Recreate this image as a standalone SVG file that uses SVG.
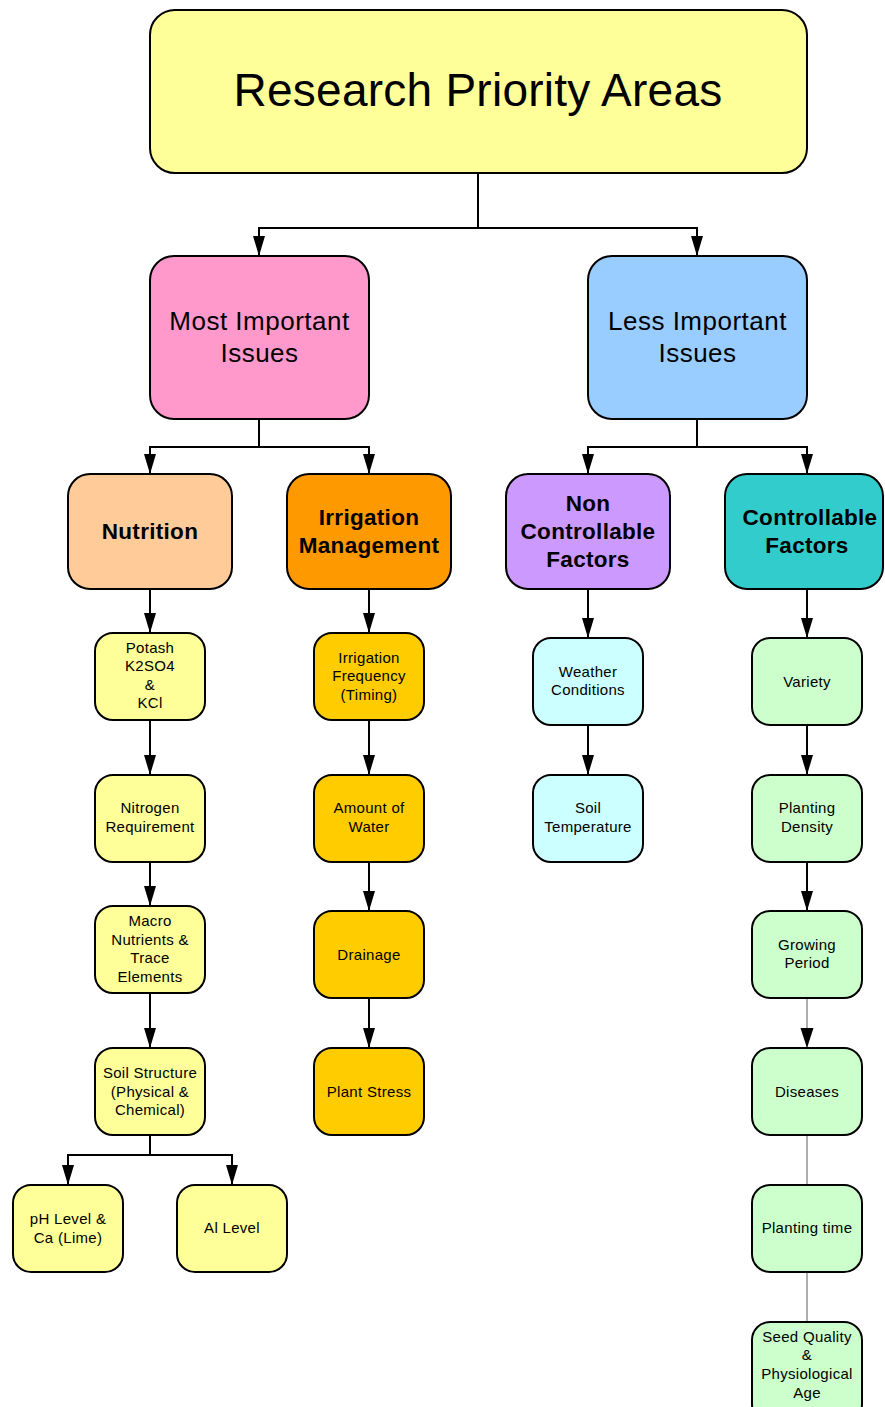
<svg xmlns="http://www.w3.org/2000/svg" width="885" height="1407" viewBox="0 0 885 1407">
<style>
.n{stroke:#000;stroke-width:2}
.t{font-family:"Liberation Sans",Arial,sans-serif;fill:#000;text-anchor:middle}
.t1{font-size:46px;letter-spacing:0.25px}
.t2{font-size:26px;letter-spacing:0.5px}
.t3{font-size:22.5px;font-weight:bold;letter-spacing:0.3px}
.t4{font-size:15px;letter-spacing:0.3px}
.c{fill:none;stroke:#000;stroke-width:2}
.g{fill:none;stroke:#777;stroke-width:1.2}
.y{fill:#FFFF99}.o{fill:#FFCC00}.cy{fill:#CCFFFF}.gr{fill:#CCFFCC}
</style>
<defs>
<marker id="a" viewBox="0 0 20 12" markerWidth="20" markerHeight="12" refX="20" refY="6" orient="auto" markerUnits="userSpaceOnUse">
<path d="M0,0 L20,6 L0,12 z" fill="#000"/>
</marker>
</defs>
<g id="connectors">
<path class="c" d="M478,173 V228 H259 V256" marker-end="url(#a)"/>
<path class="c" d="M478,228 H697 V256" marker-end="url(#a)"/>
<path class="c" d="M259,419 V447 H150 V474" marker-end="url(#a)"/>
<path class="c" d="M259,447 H369 V474" marker-end="url(#a)"/>
<path class="c" d="M697,419 V447 H588 V474" marker-end="url(#a)"/>
<path class="c" d="M697,447 H807 V474" marker-end="url(#a)"/>
<path class="c" d="M150,589 V633" marker-end="url(#a)"/>
<path class="c" d="M150,720 V775" marker-end="url(#a)"/>
<path class="c" d="M150,862 V906" marker-end="url(#a)"/>
<path class="c" d="M150,993 V1048" marker-end="url(#a)"/>
<path class="c" d="M150,1135 V1155 H68 V1185" marker-end="url(#a)"/>
<path class="c" d="M150,1155 H232 V1185" marker-end="url(#a)"/>
<path class="c" d="M369,589 V633" marker-end="url(#a)"/>
<path class="c" d="M369,720 V775" marker-end="url(#a)"/>
<path class="c" d="M369,862 V911" marker-end="url(#a)"/>
<path class="c" d="M369,998 V1048" marker-end="url(#a)"/>
<path class="c" d="M588,589 V638" marker-end="url(#a)"/>
<path class="c" d="M588,725 V775" marker-end="url(#a)"/>
<path class="c" d="M807,589 V638" marker-end="url(#a)"/>
<path class="c" d="M807,725 V775" marker-end="url(#a)"/>
<path class="c" d="M807,862 V911" marker-end="url(#a)"/>
<path class="g" d="M807,998 V1047"/>
<path d="M800.5,1028 L813.5,1028 L807,1048 z" fill="#000"/>
<path class="g" d="M807,1135 V1185"/>
<path class="g" d="M807,1272 V1322"/>
</g>
<g id="root"><rect class="n" x="150" y="10" width="657" height="163" rx="25" fill="#FFFF99"/><text class="t t1" x="478" y="106">Research Priority Areas</text></g>
<g id="most"><rect class="n" x="150" y="256" width="219" height="163" rx="24" fill="#FF99CC"/><text class="t t2" x="259.5" y="330">Most Important</text><text class="t t2" x="259.5" y="362">Issues</text></g>
<g id="less"><rect class="n" x="588" y="256" width="219" height="163" rx="24" fill="#99CCFF"/><text class="t t2" x="697.5" y="330">Less Important</text><text class="t t2" x="697.5" y="362">Issues</text></g>
<g id="nutrition"><rect class="n" x="68" y="474" width="164" height="115" rx="22" fill="#FFCC99"/><text class="t t3" x="150" y="539">Nutrition</text></g>
<g id="irrigation"><rect class="n" x="287" y="474" width="164" height="115" rx="22" fill="#FF9900"/><text class="t t3" x="369" y="525">Irrigation</text><text class="t t3" x="369" y="553">Management</text></g>
<g id="noncontrol"><rect class="n" x="506" y="474" width="164" height="115" rx="22" fill="#CC99FF"/><text class="t t3" x="588" y="511">Non</text><text class="t t3" x="588" y="539">Controllable</text><text class="t t3" x="588" y="567">Factors</text></g>
<g id="control"><rect class="n" x="725" y="474" width="158" height="115" rx="22" fill="#33CCCC"/><text class="t t3" x="810" y="525">Controllable</text><text class="t t3" x="807" y="553">Factors</text></g>
<g id="potash"><rect class="n y" x="95" y="633" width="110" height="87" rx="18"/><text class="t t4" x="150" y="653">Potash</text><text class="t t4" x="150" y="671">K2SO4</text><text class="t t4" x="150" y="690">&amp;</text><text class="t t4" x="150" y="708">KCl</text></g>
<g id="nitrogen"><rect class="n y" x="95" y="775" width="110" height="87" rx="18"/><text class="t t4" x="150" y="813">Nitrogen</text><text class="t t4" x="150" y="832">Requirement</text></g>
<g id="macro"><rect class="n y" x="95" y="906" width="110" height="87" rx="18"/><text class="t t4" x="150" y="926">Macro</text><text class="t t4" x="150" y="945">Nutrients &amp;</text><text class="t t4" x="150" y="963">Trace</text><text class="t t4" x="150" y="982">Elements</text></g>
<g id="soilstructure"><rect class="n y" x="95" y="1048" width="110" height="87" rx="18"/><text class="t t4" x="150" y="1078">Soil Structure</text><text class="t t4" x="150" y="1097">(Physical &amp;</text><text class="t t4" x="150" y="1115">Chemical)</text></g>
<g id="ph"><rect class="n y" x="13" y="1185" width="110" height="87" rx="18"/><text class="t t4" x="68" y="1224">pH Level &amp;</text><text class="t t4" x="68" y="1243">Ca (Lime)</text></g>
<g id="al"><rect class="n y" x="177" y="1185" width="110" height="87" rx="18"/><text class="t t4" x="232" y="1233">Al Level</text></g>
<g id="freq"><rect class="n o" x="314" y="633" width="110" height="87" rx="18"/><text class="t t4" x="369" y="663">Irrigation</text><text class="t t4" x="369" y="681">Frequency</text><text class="t t4" x="369" y="700">(Timing)</text></g>
<g id="amount"><rect class="n o" x="314" y="775" width="110" height="87" rx="18"/><text class="t t4" x="369" y="813">Amount of</text><text class="t t4" x="369" y="832">Water</text></g>
<g id="drainage"><rect class="n o" x="314" y="911" width="110" height="87" rx="18"/><text class="t t4" x="369" y="960">Drainage</text></g>
<g id="stress"><rect class="n o" x="314" y="1048" width="110" height="87" rx="18"/><text class="t t4" x="369" y="1097">Plant Stress</text></g>
<g id="weather"><rect class="n cy" x="533" y="638" width="110" height="87" rx="18"/><text class="t t4" x="588" y="677">Weather</text><text class="t t4" x="588" y="695">Conditions</text></g>
<g id="soiltemp"><rect class="n cy" x="533" y="775" width="110" height="87" rx="18"/><text class="t t4" x="588" y="813">Soil</text><text class="t t4" x="588" y="832">Temperature</text></g>
<g id="variety"><rect class="n gr" x="752" y="638" width="110" height="87" rx="18"/><text class="t t4" x="807" y="687">Variety</text></g>
<g id="density"><rect class="n gr" x="752" y="775" width="110" height="87" rx="18"/><text class="t t4" x="807" y="813">Planting</text><text class="t t4" x="807" y="832">Density</text></g>
<g id="growing"><rect class="n gr" x="752" y="911" width="110" height="87" rx="18"/><text class="t t4" x="807" y="950">Growing</text><text class="t t4" x="807" y="968">Period</text></g>
<g id="diseases"><rect class="n gr" x="752" y="1048" width="110" height="87" rx="18"/><text class="t t4" x="807" y="1097">Diseases</text></g>
<g id="plantingtime"><rect class="n gr" x="752" y="1185" width="110" height="87" rx="18"/><text class="t t4" x="807" y="1233">Planting time</text></g>
<g id="seed"><rect class="n gr" x="752" y="1322" width="110" height="100" rx="18"/><text class="t t4" x="807" y="1342">Seed Quality</text><text class="t t4" x="807" y="1360">&amp;</text><text class="t t4" x="807" y="1379">Physiological</text><text class="t t4" x="807" y="1398">Age</text></g>
</svg>
